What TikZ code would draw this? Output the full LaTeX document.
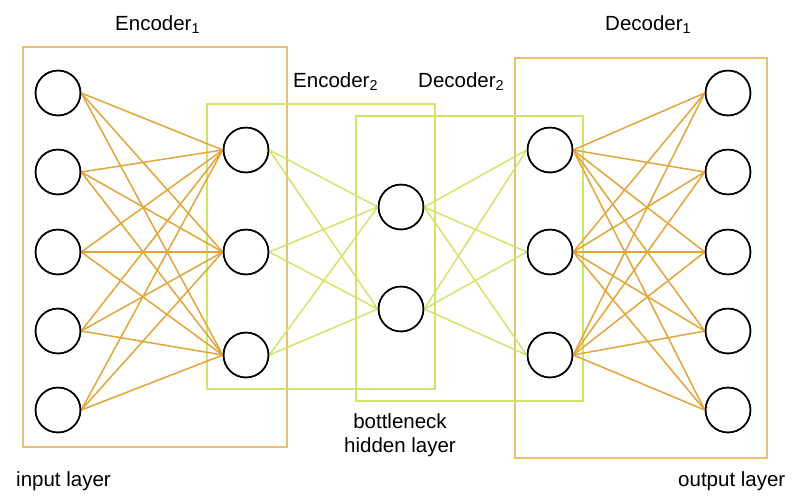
\documentclass[tikz,border=0pt]{standalone}
\usepackage{fontspec}
\setmainfont{Liberation Sans}
\definecolor{edgeor}{RGB}{226,165,58}
\definecolor{boxor}{RGB}{232,192,112}
\definecolor{grn}{RGB}{206,230,105}
\begin{document}
\begin{tikzpicture}[x=1pt,y=-1pt,
  neuron/.style={circle,draw=black,line width=1.5pt,fill=white,minimum size=45pt,inner sep=0pt},
  orbox/.style={draw=boxor,line width=1.9pt},
  grbox/.style={draw=grn,line width=1.9pt},
  oredge/.style={draw=edgeor,line width=1.5pt},
  gredge/.style={draw=grn,line width=1.5pt},
  lbl/.style={font=\fontsize{20.5}{24}\selectfont,inner sep=0pt,anchor=base west}]
\useasboundingbox (0,0) rectangle (800,499);
\fill[white] (0,0) rectangle (800,499);
% boxes
\draw[orbox] (23,47) rectangle (287,447);
\draw[orbox] (515,58) rectangle (767,458);
\draw[grbox] (207,104) rectangle (435,389);
\draw[grbox] (356,116) rectangle (583,401);
% nodes
\foreach \i/\y in {1/93,2/172,3/252,4/331,5/410}{
  \node[neuron] (in\i) at (58,\y) {};
  \node[neuron] (out\i) at (728,\y) {};
}
\foreach \i/\y in {1/150,2/252,3/355}{
  \node[neuron] (eh\i) at (246,\y) {};
  \node[neuron] (dh\i) at (550,\y) {};
}
\node[neuron] (b1) at (401,207) {};
\node[neuron] (b2) at (401,309) {};
% edges
\foreach \i in {1,...,5}{\foreach \j in {1,2,3}{
  \draw[oredge] (in\i.east) -- (eh\j.west);
  \draw[oredge] (dh\j.east) -- (out\i.west);
}}
\foreach \j in {1,2,3}{\foreach \k in {1,2}{
  \draw[gredge] (eh\j.east) -- (b\k.west);
  \draw[gredge] (b\k.east) -- (dh\j.west);
}}
% circle outlines on top of the connector ends
\foreach \n in {in1,in2,in3,in4,in5,out1,out2,out3,out4,out5,eh1,eh2,eh3,dh1,dh2,dh3,b1,b2}{
  \draw[line width=1.5pt] (\n) circle (22.5pt);
}
% labels
\node[lbl] (le1) at (115,30) {Encoder\textsubscript{1}};
\node[lbl] (le2) at (293,87) {Encoder\textsubscript{2}};
\node[lbl] (ld2) at (418,87) {Decoder\textsubscript{2}};
\node[lbl] (ld1) at (605,30) {Decoder\textsubscript{1}};
\node[lbl,anchor=base] (lb1) at (400,428) {bottleneck};
\node[lbl,anchor=base] (lb2) at (400,452) {hidden layer};
\node[lbl] (lin) at (16,486) {input layer};
\node[lbl] (lout) at (678,486) {output layer};
\end{tikzpicture}
\end{document}
